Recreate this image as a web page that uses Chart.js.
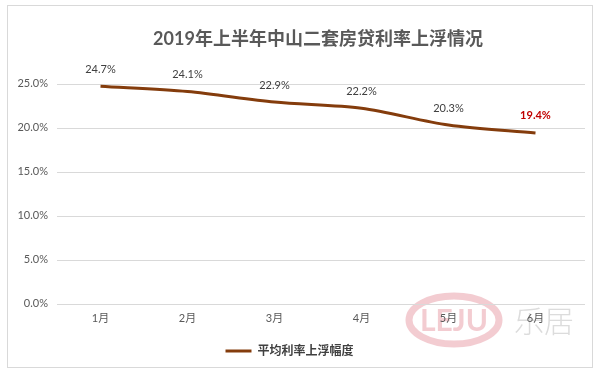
<!DOCTYPE html>
<html><head><meta charset="utf-8">
<script src="https://cdn.jsdelivr.net/npm/chart.js@4"></script>
<style>html,body{margin:0;padding:0;background:#fff;}#wrap{width:600px;height:373px;position:relative;}</style>
</head><body>
<div id="wrap"><canvas id="c" width="600" height="373"></canvas></div>
<script>
const titleText = '2019年上半年中山二套房贷利率上浮情况';
const categories = ['1月','2月','3月','4月','5月','6月'];
const seriesName = '平均利率上浮幅度';
const values = [24.7, 24.1, 22.9, 22.2, 20.3, 19.4];
const yTicks = [0, 5, 10, 15, 20, 25];

const FONT = "Lato, 'Noto Sans CJK SC', sans-serif";
const LINE = '#843c0c';

const framePlugin = {
  id: 'frame',
  beforeDraw(chart) {
    const ctx = chart.ctx;
    ctx.save();
    ctx.fillStyle = '#fff';
    ctx.fillRect(0, 0, chart.width, chart.height);
    ctx.strokeStyle = '#d9d9d9';
    ctx.lineWidth = 1;
    ctx.strokeRect(7.5, 5.5, 585, 362);
    // watermark
    ctx.globalAlpha = 0.5;
    ctx.strokeStyle = '#e89aa4';
    ctx.lineWidth = 7;
    ctx.beginPath();
    ctx.ellipse(454, 320, 45, 24, 0, 0, Math.PI * 2);
    ctx.stroke();
    ctx.fillStyle = '#e89aa4';
    ctx.font = "bold 30px Lato, sans-serif";
    ctx.textAlign = 'center';
    ctx.textBaseline = 'middle';
    ctx.fillText('LEJU', 454, 321);
    ctx.globalAlpha = 1;
    ctx.fillStyle = '#dcdcdc';
    ctx.font = "300 30px 'Noto Sans CJK SC', sans-serif";
    ctx.fillText('乐居', 544, 321);
    ctx.restore();
  },
  beforeDatasetsDraw(chart) {
    const ctx = chart.ctx, ys = chart.scales.y, a = chart.chartArea;
    ctx.save();
    ctx.strokeStyle = '#d9d9d9';
    ctx.lineWidth = 1;
    ys.ticks.forEach(t => {
      const y = Math.round(ys.getPixelForValue(t.value)) + 0.5;
      ctx.beginPath();
      ctx.moveTo(a.left, y);
      ctx.lineTo(a.right + 6, y);
      ctx.stroke();
    });
    ctx.restore();
  },
  afterDatasetsDraw(chart) {
    const ctx = chart.ctx;
    const meta = chart.getDatasetMeta(0);
    ctx.save();
    ctx.textAlign = 'center';
    ctx.textBaseline = 'middle';
    meta.data.forEach((pt, i) => {
      const last = i === values.length - 1;
      ctx.fillStyle = last ? '#c00000' : '#404040';
      ctx.font = (last ? 'bold ' : '') + '11px ' + FONT;
      ctx.fillText(values[i].toFixed(1) + '%', pt.x, pt.y - 17);
    });
    ctx.restore();
  }
};

new Chart(document.getElementById('c'), {
  type: 'line',
  data: {
    labels: categories,
    datasets: [{
      label: seriesName,
      data: values,
      borderColor: LINE,
      backgroundColor: LINE,
      borderWidth: 3,
      pointRadius: 0,
      tension: 0.3,
      fill: false
    }]
  },
  options: {
    responsive: false,
    animation: false,
    devicePixelRatio: 1,
    layout: { padding: { top: 28, right: 21, bottom: 6, left: 0 } },
    plugins: {
      title: {
        display: true,
        text: titleText,
        fullSize: false,
        color: '#595959',
        font: { family: FONT, size: 18, weight: 'bold' },
        padding: { top: 0, bottom: 34 }
      },
      legend: {
        display: true,
        position: 'bottom',
        labels: {
          usePointStyle: true,
          pointStyle: 'line',
          pointStyleWidth: 26,
          color: '#404040',
          font: { family: FONT, size: 12, weight: 'bold' },
          padding: 12
        }
      },
      tooltip: { enabled: false }
    },
    scales: {
      x: {
        offset: true,
        grid: { display: false, drawTicks: false },
        border: { display: false },
        ticks: { color: '#595959', font: { family: FONT, size: 11 }, padding: 8 }
      },
      y: {
        min: 0,
        max: 25,
        afterFit(s) { s.width = 57; },
        afterBuildTicks(s) { s.ticks = yTicks.map(v => ({ value: v })); },
        grid: { display: false, drawTicks: false },
        border: { display: false },
        ticks: {
          color: '#595959',
          font: { family: FONT, size: 11 },
          padding: 9,
          callback: v => v.toFixed(1) + '%'
        }
      }
    }
  },
  plugins: [framePlugin]
});
</script>
</body></html>
